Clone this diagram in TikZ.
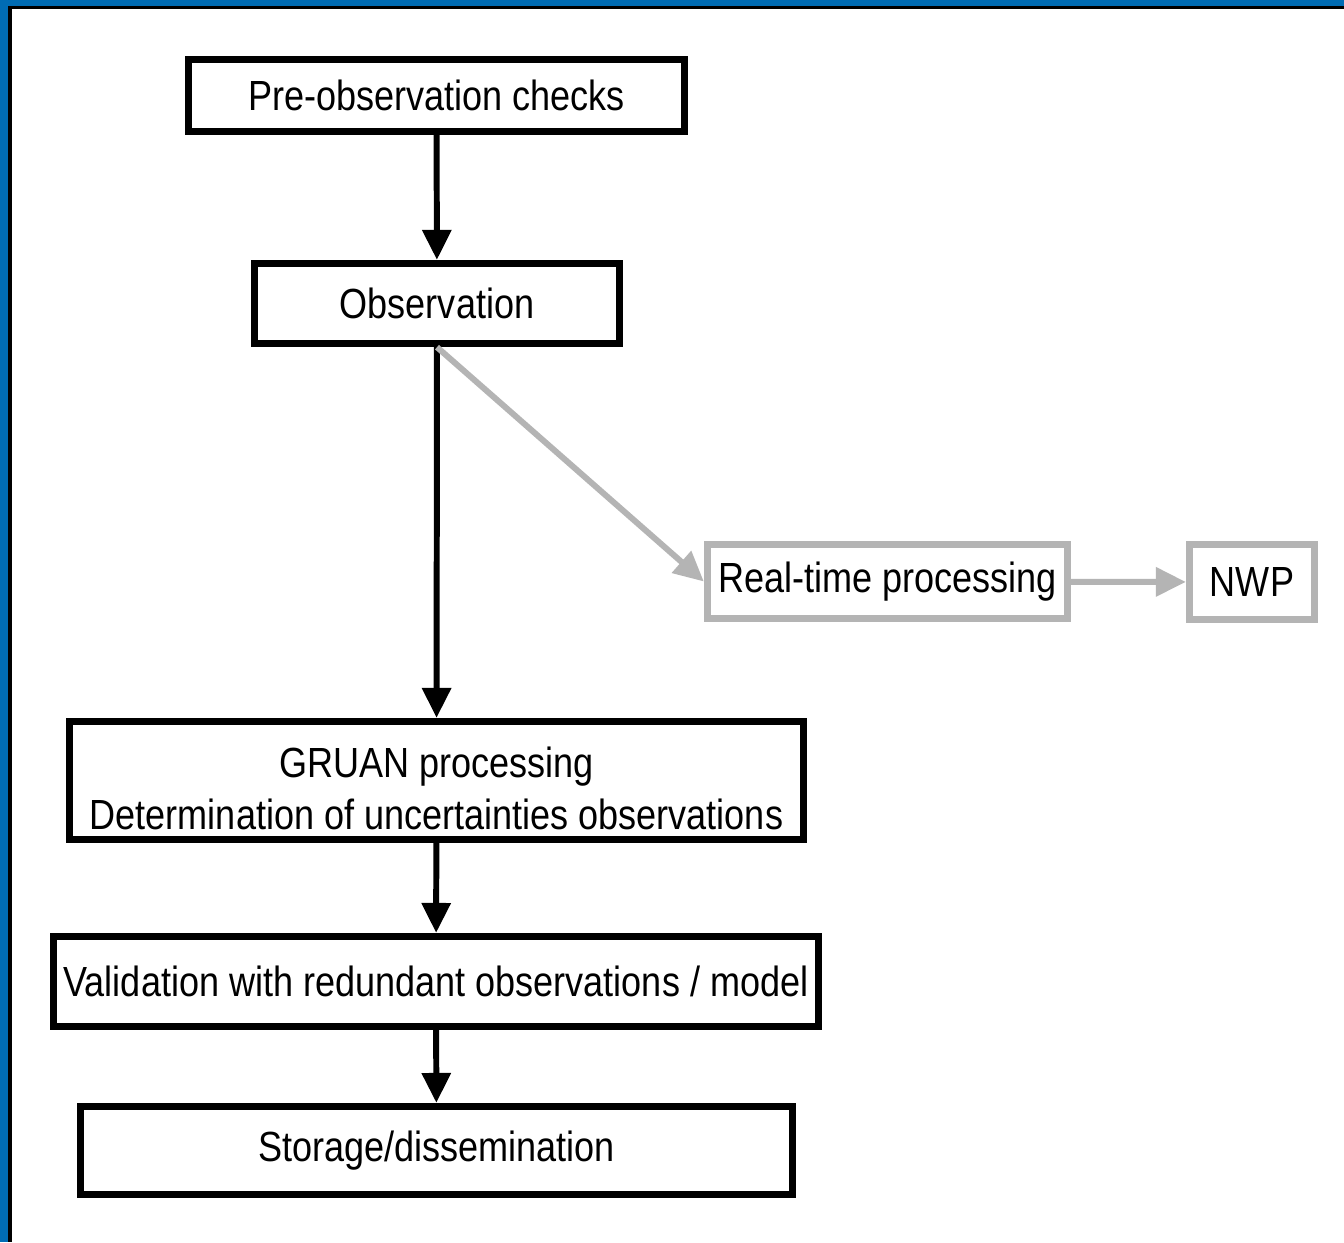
\documentclass[tikz,border=0pt]{standalone}
\usepackage{fontspec}
\setmainfont[FakeStretch=0.855]{Liberation Sans}
\usetikzlibrary{arrows.meta}
\definecolor{framblue}{HTML}{006CB4}
\definecolor{rtgray}{HTML}{B4B4B4}
\tikzset{
  procbox/.style={draw=black, line width=4.2pt, fill=white, inner sep=0pt, align=center},
  rtbox/.style={draw=rtgray, line width=4.2pt, fill=white, inner sep=0pt, align=center},
  flow/.style={-{Triangle[length=17pt, width=16pt]}, line width=3.4pt, color=black},
  rtflow/.style={-{Triangle[length=17pt, width=16pt]}, line width=3.4pt, color=rtgray},
  every node/.append style={font=\fontsize{24}{29.5}\selectfont}
}

\begin{document}
\begin{tikzpicture}[x=0.02cm, y=-0.02cm]
\useasboundingbox (0,0) rectangle (1344,1242);
\fill[framblue] (0,0) rectangle (1344,1242);
\fill[black] (8,6) rectangle (1344,1242);
\fill[white] (12,9) rectangle (1344,1242);

\node[procbox, minimum width=9.92cm, minimum height=1.44cm] (preobs) at (436.5,95.5) {Pre-observation checks};
\node[procbox, minimum width=7.3cm, minimum height=1.6cm] (obs) at (437,303.5) {Observation};
\node[procbox, minimum width=14.68cm, minimum height=2.36cm, text height=56pt, text depth=0pt] (gruan) at (436.5,780.5) {GRUAN processing\\Determination of uncertainties observations};
\node[procbox, minimum width=15.3cm, minimum height=1.8cm] (valid) at (436,981.5) {Validation with redundant observations / model};
\node[procbox, minimum width=14.24cm, minimum height=1.76cm] (store) at (436.5,1150.5) {Storage/dissemination};
\node[rtbox, minimum width=7.2cm, minimum height=1.48cm] (realtime) at (887.5,581.5) {Real-time processing};
\node[rtbox, minimum width=2.5cm, minimum height=1.5cm] (nwp) at (1252,582) {NWP};

\draw[flow] (preobs) -- (obs);
\draw[flow] (obs) -- (gruan);
\draw[flow] (gruan) -- (valid);
\draw[flow] (valid) -- (store);
\draw[rtflow] (obs.south) -- (realtime.west);
\draw[rtflow] (realtime) -- (nwp);
\end{tikzpicture}
\end{document}
